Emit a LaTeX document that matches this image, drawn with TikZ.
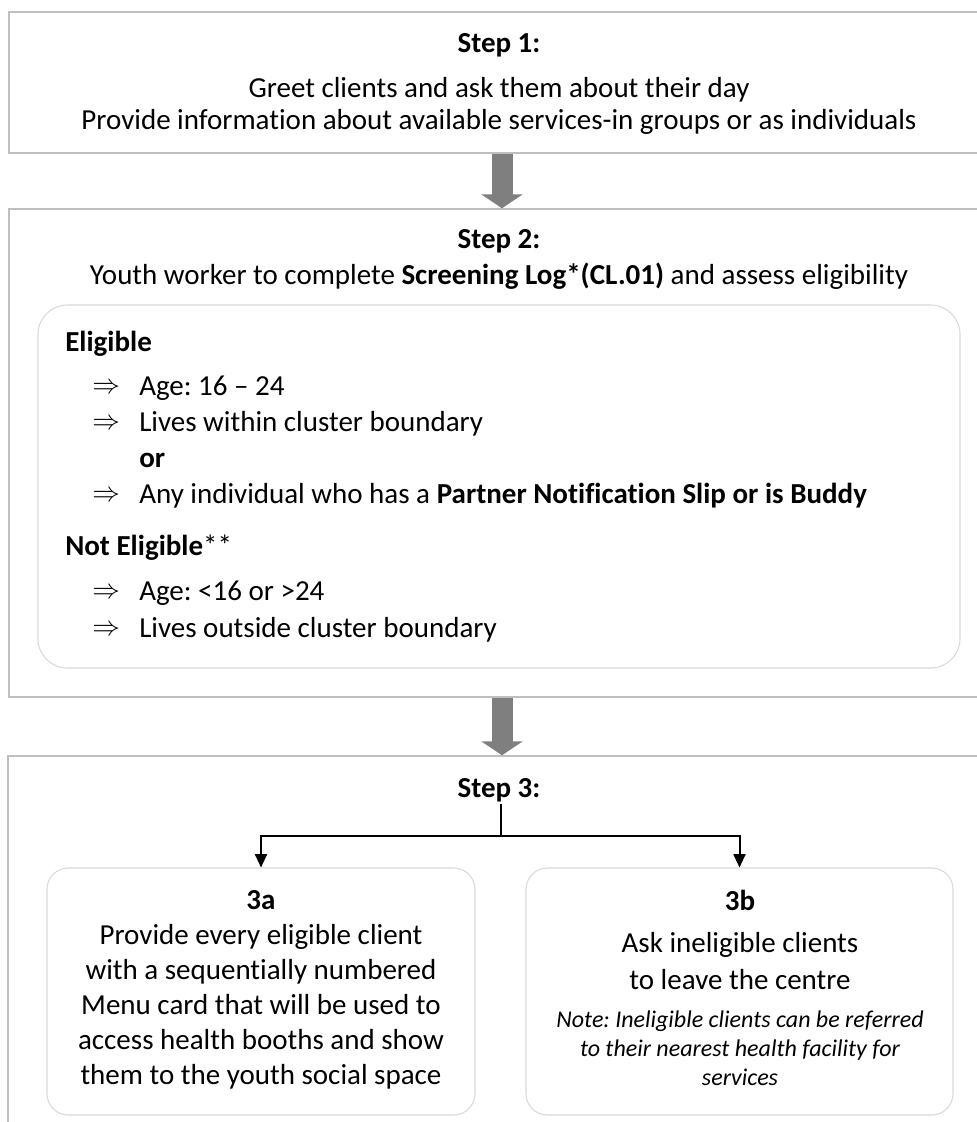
\documentclass[tikz,border=0pt]{standalone}
\usepackage{fontspec}
\setmainfont[Ligatures=NoCommon]{Carlito}
\frenchspacing
\usetikzlibrary{arrows.meta,calc,fit}
\definecolor{boxgray}{HTML}{BFBFBF}
\definecolor{softgray}{HTML}{DADADA}
\definecolor{arrowgray}{HTML}{7F7F7F}
\begin{document}
\begin{tikzpicture}[x=0.75pt,y=-0.75pt,
  stepbox/.style={draw=boxgray, line width=1.1pt, inner sep=0pt, fit=#1},
  softbox/.style={draw=softgray, line width=0.8pt, rounded corners=#1, inner sep=0pt},
  bigarrow/.style={draw=arrowgray, line width=15.75pt,
    -{Triangle[width=30.75pt,length=10.5pt]}, arrowgray},
  conn/.style={draw=black, line width=1.5pt},
  connarrow/.style={conn, -{Triangle[width=9pt,length=10pt]}},
  txt/.style={inner sep=0pt, font=\fontsize{21.75}{24}\selectfont},
  ttl/.style={txt, font=\fontsize{21.75}{24}\selectfont\bfseries},
  item/.style={inner sep=0pt, anchor=west, font=\fontsize{21.75}{24}\selectfont},
  bullet/.style={inner sep=0pt, anchor=west, font=\fontsize{19.5}{24}\selectfont},
]
\clip (0,0) rectangle (977,1122);
\fill[white] (0,0) rectangle (977,1122);

% ---- Step 1 ----
\coordinate (s1a) at (9,12);
\coordinate (s1b) at (995,153);
\node[stepbox={(s1a)(s1b)}] (s1) {};
\node[ttl] (s1t) at (499,45) {Step 1:};
\node[txt, align=center, font=\fontsize{21.75}{24}\selectfont] (s1x) at (499,106)
  {Greet clients and ask them about their day\\
   Provide information about available services-in groups or as individuals};

% ---- Step 2 ----
\coordinate (s2a) at (9,209);
\coordinate (s2b) at (995,697);
\node[stepbox={(s2a)(s2b)}] (s2) {};
\node[ttl] (s2t) at (499,241) {Step 2:};
\node[txt] (s2x) at (499,276)
  {Youth worker to complete \textbf{Screening Log*(CL.01)} and assess eligibility};

\coordinate (e1) at (38,305);
\coordinate (e2) at (960,668);
\node[softbox=22pt, fit=(e1)(e2)] (elig) {};

\node[item, font=\fontsize{21.75}{24}\selectfont\bfseries] (h1) at (65,344) {Eligible};
\node[bullet] (m1) at (92,388) {$\Rightarrow$};
\node[item] (i1) at (139,388) {Age: 16 – 24};
\node[bullet] (m2) at (92,424) {$\Rightarrow$};
\node[item] (i2) at (139,424) {Lives within cluster boundary};
\node[item, font=\fontsize{21.75}{24}\selectfont\bfseries] (i3) at (139,460) {or};
\node[bullet] (m4) at (92,496) {$\Rightarrow$};
\node[item] (i4) at (139,496) {Any individual who has a \textbf{Partner Notification Slip or is Buddy}};
\node[item] (h2) at (65,548) {\textbf{Not Eligible}**};
\node[bullet] (m5) at (92,593) {$\Rightarrow$};
\node[item] (i5) at (139,593) {Age: <16 or >24};
\node[bullet] (m6) at (92,630) {$\Rightarrow$};
\node[item] (i6) at (139,630) {Lives outside cluster boundary};

% ---- Step 3 ----
\coordinate (s3a) at (8,756);
\coordinate (s3b) at (995,1140);
\node[stepbox={(s3a)(s3b)}] (s3) {};
\node[ttl] (s3t) at (499,790) {Step 3:};

\coordinate (a1) at (47,868);
\coordinate (a2) at (475,1115);
\node[softbox=16pt, fit=(a1)(a2)] (b3a) {};
\coordinate (b1) at (526,868);
\coordinate (b2) at (953,1115);
\node[softbox=16pt, fit=(b1)(b2)] (b3b) {};

\node[ttl] (b3at) at (261,900) {3a};
\node[txt, align=center, font=\fontsize{21.75}{26.25}\selectfont] (b3ax) at (261,1007)
  {Provide every eligible client\\
   with a sequentially numbered\\
   Menu card that will be used to\\
   access health booths and show\\
   them to the youth social space};

\node[ttl] (b3bt) at (740,900) {3b};
\node[txt, align=center, font=\fontsize{21.75}{27.75}\selectfont] (b3bx) at (740,961)
  {Ask ineligible clients\\ to leave the centre};
\node[txt, align=center, font=\fontsize{18}{21.75}\selectfont\itshape] (b3bn) at (740,1048)
  {Note: Ineligible clients can be referred\\
   to their nearest health facility for\\
   services};

% ---- connectors ----
\coordinate (top) at (501,804);
\coordinate (split) at (501,836);
\draw[conn] (top) -- (split);
\draw[connarrow] (split) -| (b3a.north);
\draw[connarrow] (split) -| (b3b.north);

\coordinate (ax) at (502,0);
\draw[bigarrow] (s1.south -| ax) -- (s2.north -| ax);
\draw[bigarrow] (s2.south -| ax) -- (s3.north -| ax);
\end{tikzpicture}
\end{document}
